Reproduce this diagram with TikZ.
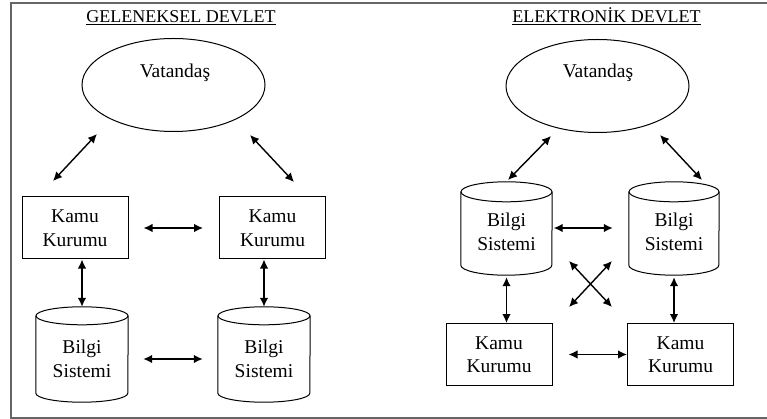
\documentclass[tikz,border=0pt]{standalone}
\usepackage{fontspec}
\setmainfont{Liberation Serif}
\usetikzlibrary{arrows.meta,shapes.geometric,calc}

\tikzset{
  bodytext/.style={font=\fontsize{19.5}{23.5}\selectfont, align=center},
  titletext/.style={font=\fontsize{18}{21}\selectfont, anchor=base},
  citizen/.style={ellipse, draw, line width=1pt, minimum width=183pt, minimum height=93pt, inner sep=0pt},
  office/.style={rectangle, draw, line width=1pt, minimum width=106pt, minimum height=62pt, inner sep=0pt, bodytext},
  drumbody/.style={rectangle, draw=none, inner sep=0pt},
  drumline/.style={line width=1pt},
  link/.style={line width=1.4pt, {Latex[length=9pt,width=8.5pt]}-{Latex[length=9pt,width=8.5pt]}},
  frame/.style={line width=2.6pt, draw=black!60},
}

% heading with a slightly heavier underline
\newcommand{\headline}[1]{\setbox0\hbox{#1}%
  \rlap{\copy0}\raisebox{-2.2pt}{\rule{\wd0}{1pt}}}

% cylinder: name, centre x, top y, bottom y, half width, cap half height, text y, text
\newcommand{\drum}[8]{%
  \node[drumbody, minimum width=#5*2pt, minimum height=(#4-#3-2*#6)*1pt]
    (#1) at (#2, {(#3+#4)/2}) {};
  \draw[drumline] (#1.north west) -- (#1.south west)
    arc[start angle=180, end angle=360, x radius=#5pt, y radius=#6pt]
    -- (#1.north east);
  \draw[drumline] (#1.north) ellipse[x radius=#5pt, y radius=#6pt];
  \node[bodytext] (#1-label) at (#2,#7) {#8};
}

\begin{document}
\begin{tikzpicture}[x=1pt,y=-1pt]
\useasboundingbox (0,0) rectangle (767,419);

% outer frame
\draw[frame] (767,3) -- (11,3) -- (11,418) -- (767,418);

% ---------- traditional government ----------
\node[titletext] (tleft) at (181,22.5) {\headline{GELENEKSEL DEVLET}};
\node[citizen] (vleft) at (173.5,85) {};
\node[bodytext, anchor=base] (vleft-label) at (175,78) {Vatandaş};

\node[office] (kl1) at (75,228) {Kamu\\Kurumu};
\node[office] (kl2) at (272.5,228) {Kamu\\Kurumu};

\drum{bl1}{82}{307}{402}{46}{9}{359}{Bilgi\\Sistemi}
\drum{bl2}{264}{307}{402}{46}{9}{359}{Bilgi\\Sistemi}

\coordinate (al1a) at (97,134);  \coordinate (al1b) at (53,181);
\coordinate (al2a) at (250,135); \coordinate (al2b) at (294,182);

\draw[link] (al1a) -- (al1b);
\draw[link] (al2a) -- (al2b);
\draw[link, shorten <=15pt, shorten >=16pt] (kl1.east) -- (kl2.west);
\draw[link] (kl1.south -| bl1.north) -- ($(bl1.north)+(0,-9)$);
\draw[link] (kl2.south -| bl2.north) -- ($(bl2.north)+(0,-9)$);
\draw[link, shorten <=15pt, shorten >=15pt] (bl1.east |- bl1-label) -- (bl2.west |- bl1-label);

% ---------- electronic government ----------
\node[titletext] (tright) at (606.5,22.5) {\headline{ELEKTRONİK DEVLET}};
\node[citizen] (vright) at (597.5,86) {};
\node[bodytext, anchor=base] (vright-label) at (598,78) {Vatandaş};

\drum{br1}{506.5}{182}{275}{45.5}{10}{232}{Bilgi\\Sistemi}
\drum{br2}{674}{182}{275}{45}{10}{232}{Bilgi\\Sistemi}

\node[office] (kr1) at (499,354.5) {Kamu\\Kurumu};
\node[office] (kr2) at (680.5,354.5) {Kamu\\Kurumu};

\coordinate (ar1a) at (551,136); \coordinate (ar1b) at (508,180);
\coordinate (ar2a) at (660,135); \coordinate (ar2b) at (702,180);
\coordinate (xa) at (569,261);   \coordinate (xb) at (612,307);
\coordinate (xc) at (612,261);   \coordinate (xd) at (569,307);

\draw[link] (ar1a) -- (ar1b);
\draw[link] (ar2a) -- (ar2b);
\draw[link, shorten <=1.5pt, shorten >=16pt] (br1.east |- 0,228) -- (br2.west |- 0,228);
\draw[link] (xa) -- (xb);
\draw[link] (xc) -- (xd);
\draw[link, shorten <=2pt] ($(br1.south)+(0,10)$) -- (kr1.north -| br1.south);
\draw[link, shorten <=2pt] ($(br2.south)+(0,10)$) -- (kr2.north -| br2.south);
\draw[link, shorten <=16pt] (kr1.east) -- (kr2.west);
\end{tikzpicture}
\end{document}
